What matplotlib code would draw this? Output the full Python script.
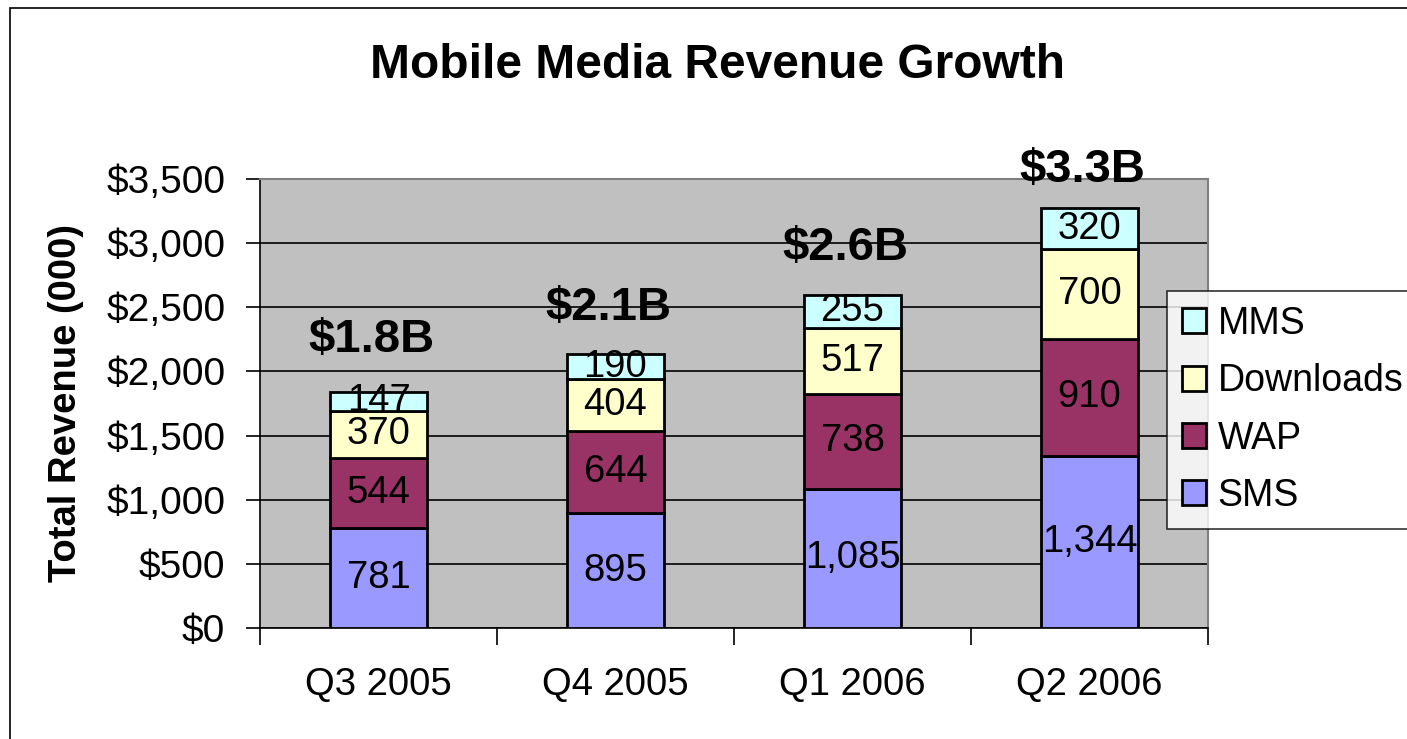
import matplotlib.pyplot as plt
from matplotlib.patches import Patch, Rectangle
from matplotlib.ticker import FuncFormatter, MultipleLocator
import numpy as np

plt.rcParams["font.family"] = ["Liberation Sans", "DejaVu Sans"]

quarters = ["Q3 2005", "Q4 2005", "Q1 2006", "Q2 2006"]
series_names = ["SMS", "WAP", "Downloads", "MMS"]
sms = [781, 895, 1085, 1344]
wap = [544, 644, 738, 910]
downloads = [370, 404, 517, 700]
mms = [147, 190, 255, 320]
total_labels = ["$1.8B", "$2.1B", "$2.6B", "$3.3B"]

colors = ["#9999FF", "#993366", "#FFFFCC", "#CCFFFF"]
# the total labels sit a little unevenly above the bars in the original
label_lift = [400, 360, 370, 300]

fig = plt.figure(figsize=(14.07, 7.39), dpi=100)
fig.patches.append(Rectangle((10 / 1407, -0.1), 1.2, 1.1 - 8 / 739, transform=fig.transFigure,
                             fill=False, edgecolor="black", linewidth=1.2))
ax = fig.add_axes([260 / 1407, 1 - 628 / 739, 948 / 1407, 449 / 739])
ax.set_facecolor("#C0C0C0")

x = np.arange(len(quarters))
bottom = np.zeros(len(quarters))
for name, values, color in zip(series_names, [sms, wap, downloads, mms], colors):
    values = np.array(values)
    ax.bar(x, values, width=0.41, bottom=bottom, color=color, edgecolor="black",
           linewidth=2, zorder=3)
    for xi, b, v in zip(x, bottom, values):
        ax.text(xi, b + v / 2, f"{v:,}", ha="center", va="center", fontsize=27.5, zorder=4)
    bottom += values

for xi, total, label, lift in zip(x, bottom, total_labels, label_lift):
    ax.text(xi - 0.03, total + lift, label, ha="center", va="center", fontsize=34,
            fontweight="bold", clip_on=False, zorder=5)

ax.set_xlim(-0.5, 3.5)
ax.set_ylim(0, 3500)
ax.yaxis.set_major_locator(MultipleLocator(500))
ax.yaxis.set_major_formatter(FuncFormatter(lambda v, p: f"${v:,.0f}"))
ax.grid(axis="y", color="black", linewidth=1.2, zorder=1)
ax.set_xticks(x)
ax.set_xticklabels(quarters)
ax.set_xticks(np.arange(-0.5, 4, 1), minor=True)
ax.tick_params(axis="x", which="major", length=0, pad=28, labelsize=27.5)
ax.tick_params(axis="x", which="minor", length=12, width=1.2)
ax.tick_params(axis="y", length=10, width=1.2, labelsize=28, pad=15)

for side in ["top", "right"]:
    ax.spines[side].set_color("#808080")
    ax.spines[side].set_linewidth(1.5)
for side in ["left", "bottom"]:
    ax.spines[side].set_color("black")
    ax.spines[side].set_linewidth(1.2)

ax.set_ylabel("Total Revenue (000)", fontsize=27.5, fontweight="bold", labelpad=16)
fig.text(718 / 1407, 1 - 65 / 739, "Mobile Media Revenue Growth", ha="center", va="center",
         fontsize=34.5, fontweight="bold")

handles = [Patch(facecolor=c, edgecolor="black", linewidth=2, label=n)
           for n, c in zip(series_names, colors)][::-1]
leg = fig.legend(handles=handles, loc="upper left", bbox_to_anchor=(1167 / 1407, 1 - 291 / 739),
                 fontsize=27, frameon=True, fancybox=False, edgecolor="black",
                 handlelength=0.65, handleheight=0.65, handletextpad=0.3, labelspacing=0.57,
                 borderpad=0.4, borderaxespad=0)
leg.get_frame().set_linewidth(1.2)

fig.savefig("out.png", dpi=100)
